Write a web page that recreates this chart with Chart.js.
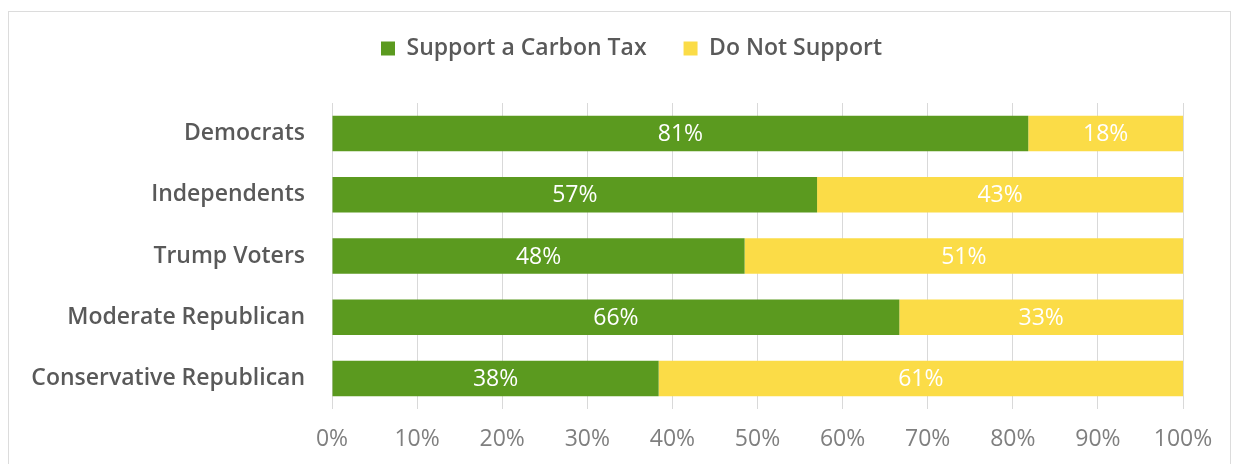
<!DOCTYPE html>
<html lang="en">
<head>
    <meta charset="UTF-8">
    <title>Support for a Carbon Tax</title>
    <script src="https://cdn.jsdelivr.net/npm/chart.js"></script>
    <style>
        body { margin: 0; background: #fff; }
        #wrap { position: relative; width: 1241px; height: 464px; }
        #frame { position: absolute; left: 8px; top: 11px; width: 1221px; height: 470px;
                 border: 1px solid #dcdcdc; pointer-events: none; }
    </style>
</head>
<body>
    <div id="wrap">
        <canvas id="myChart"></canvas>
        <div id="frame"></div>
    </div>

    <script>
        const groups = ['Democrats', 'Independents', 'Trump Voters', 'Moderate Republican', 'Conservative Republican'];
        const support = [81, 57, 48, 66, 38];
        const notSupport = [18, 43, 51, 33, 61];
        const seriesNames = ['Support a Carbon Tax', 'Do Not Support'];

        // 100% stacked: each row is scaled by its own total
        const totals = support.map((v, i) => v + notSupport[i]);
        const supportShare = support.map((v, i) => v / totals[i] * 100);
        const notSupportShare = notSupport.map((v, i) => v / totals[i] * 100);

        const font = "'Open Sans', sans-serif";

        // white value labels in the middle of each segment
        const barLabels = {
            id: 'barLabels',
            afterDatasetsDraw(chart) {
                const ctx = chart.ctx;
                const raw = [support, notSupport];
                ctx.save();
                ctx.font = '23px ' + font;
                ctx.fillStyle = '#ffffff';
                ctx.textAlign = 'center';
                ctx.textBaseline = 'middle';
                chart.data.datasets.forEach((ds, d) => {
                    chart.getDatasetMeta(d).data.forEach((bar, i) => {
                        ctx.fillText(raw[d][i] + '%', (bar.x + bar.base) / 2, bar.y + 1);
                    });
                });
                ctx.restore();
            }
        };

        const ctx = document.getElementById('myChart').getContext('2d');
        const chart = new Chart(ctx, {
            type: 'bar',
            data: {
                labels: groups,
                datasets: [
                    {
                        label: seriesNames[0],
                        backgroundColor: '#5b9a1f',
                        data: supportShare,
                        xAxisID: 'x',
                        yAxisID: 'y'
                    },
                    {
                        label: seriesNames[1],
                        backgroundColor: '#fbdc47',
                        data: notSupportShare,
                        xAxisID: 'x',
                        yAxisID: 'y'
                    }
                ]
            },
            options: {
                indexAxis: 'y',
                responsive: true,
                maintainAspectRatio: false,
                animation: false,
                categoryPercentage: 1,
                barPercentage: 0.58,
                layout: { padding: { left: 22, right: 0, top: 0, bottom: 0 } },
                plugins: {
                    tooltip: { enabled: false },
                    legend: {
                        position: 'top',
                        labels: {
                            boxWidth: 14,
                            boxHeight: 14,
                            padding: 37,
                            color: '#595959',
                            font: { family: font, size: 23, weight: '600' }
                        }
                    }
                },
                scales: {
                    x: {
                        stacked: true,
                        min: 0,
                        max: 100,
                        ticks: {
                            stepSize: 10,
                            padding: 17,
                            color: '#7f7f7f',
                            font: { family: font, size: 23 },
                            callback: v => v + '%'
                        },
                        grid: { color: '#d9d9d9', drawTicks: false },
                        border: { display: false },
                        afterFit(scale) { scale.height = 55; }
                    },
                    y: {
                        stacked: true,
                        ticks: {
                            padding: 27,
                            color: '#595959',
                            font: { family: font, size: 23, weight: '600' }
                        },
                        grid: { display: false, drawTicks: false },
                        border: { display: false },
                        afterFit(scale) { scale.width = 310; }
                    },
                    // empty axes that keep room above and right of the bars
                    gapTop: {
                        type: 'linear',
                        position: 'top',
                        ticks: { display: false },
                        grid: { display: false },
                        border: { display: false },
                        afterFit(scale) { scale.height = 33; }
                    },
                    gapRight: {
                        type: 'linear',
                        position: 'right',
                        ticks: { display: false },
                        grid: { display: false },
                        border: { display: false },
                        afterFit(scale) { scale.width = 58; }
                    }
                }
            },
            plugins: [barLabels]
        });
    </script>
</body>
</html>
